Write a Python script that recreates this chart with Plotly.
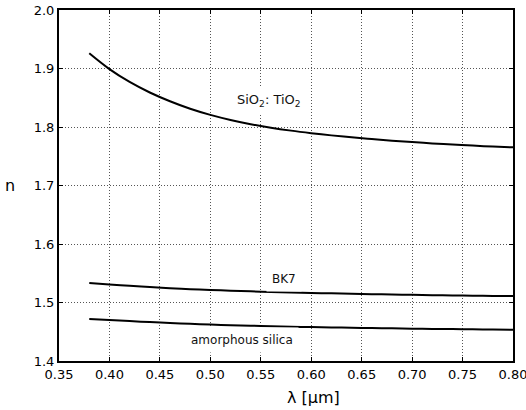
import plotly.graph_objects as go

wl = [0.38, 0.40, 0.42, 0.44, 0.46, 0.48, 0.50, 0.52, 0.54, 0.56, 0.58,
      0.60, 0.62, 0.64, 0.66, 0.68, 0.70, 0.72, 0.74, 0.76, 0.78, 0.80]
n_sio2_tio2 = [1.9260, 1.8990, 1.8770, 1.8590, 1.8440, 1.8312, 1.8207, 1.8120, 1.8048, 1.7988, 1.7938,
               1.7895, 1.7857, 1.7823, 1.7793, 1.7766, 1.7742, 1.7720, 1.7700, 1.7682, 1.7666, 1.7652]
n_bk7 = [1.5333, 1.5308, 1.5285, 1.5263, 1.5244, 1.5228, 1.5214, 1.5202, 1.5191, 1.5181, 1.5172,
         1.5163, 1.5156, 1.5149, 1.5142, 1.5136, 1.5131, 1.5126, 1.5121, 1.5117, 1.5113, 1.5110]
n_silica = [1.4718, 1.4701, 1.4682, 1.4665, 1.4650, 1.4636, 1.4623, 1.4612, 1.4603, 1.4595, 1.4587,
            1.4580, 1.4574, 1.4568, 1.4563, 1.4558, 1.4553, 1.4549, 1.4545, 1.4541, 1.4537, 1.4533]

x_ticks = [0.35, 0.40, 0.45, 0.50, 0.55, 0.60, 0.65, 0.70, 0.75, 0.80]
y_ticks = [1.4, 1.5, 1.6, 1.7, 1.8, 1.9, 2.0]

labels = ["SiO<sub>2</sub>: TiO<sub>2</sub>", "BK7", "amorphous silica"]
label_x = [0.5585, 0.5735, 0.5315]
label_y = [1.845, 1.541, 1.436]
label_size = [13, 12, 12]

font = "DejaVu Sans, sans-serif"

fig = go.Figure()
for ys in (n_sio2_tio2, n_bk7, n_silica):
    fig.add_trace(go.Scatter(x=wl, y=ys, mode="lines",
                             line=dict(color="black", width=2, shape="spline", smoothing=1.0),
                             showlegend=False, hoverinfo="skip"))

for t, x, y, s in zip(labels, label_x, label_y, label_size):
    fig.add_annotation(x=x, y=y, text=t, showarrow=False, bgcolor="white", borderpad=5,
                       font=dict(family=font, size=s, color="#111"))

# axis titles as annotations (horizontal "n")
fig.add_annotation(xref="paper", yref="paper", x=-0.108, y=0.4986, text="n", showarrow=False,
                   xanchor="center", yanchor="middle", font=dict(family=font, size=16, color="black"))
fig.add_annotation(xref="paper", yref="paper", x=0.56, y=-0.103, text="λ [μm]", showarrow=False,
                   xanchor="center", yanchor="middle", font=dict(family=font, size=16, color="black"))

axis_common = dict(showline=True, linecolor="black", linewidth=2, mirror="allticks", ticks="inside",
                   ticklen=4, tickcolor="black", showgrid=True, gridcolor="#555", griddash="1px,2px",
                   gridwidth=1, zeroline=False, ticklabeloverflow="allow", automargin=False,
                   tickfont=dict(family=font, size=13, color="black"))

fig.update_xaxes(range=[0.35, 0.80], tickvals=x_ticks, ticktext=[f"{v:.2f}" for v in x_ticks], **axis_common)
fig.update_yaxes(range=[1.4, 2.0], tickvals=y_ticks, ticktext=[f"{v:.1f}" for v in y_ticks], **axis_common)

fig.update_layout(width=526, height=410, margin=dict(l=59, r=13, t=10, b=49),
                  paper_bgcolor="white", plot_bgcolor="white")

fig.write_html("out.html")
